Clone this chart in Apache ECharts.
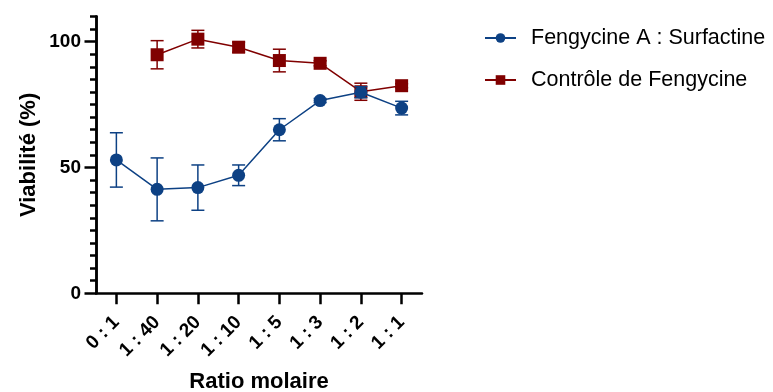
<!DOCTYPE html>
<html>
<head>
<meta charset="utf-8">
<script src="https://cdn.jsdelivr.net/npm/echarts@6/dist/echarts.min.js"></script>
<style>
  html, body { margin: 0; padding: 0; background: #fff; }
  #chart { width: 773px; height: 392px; }
</style>
</head>
<body>
<div id="chart"></div>
<script>
// Molar ratios tested
const categories = ['0 : 1', '1 : 40', '1 : 20', '1 : 10', '1 : 5', '1 : 3', '1 : 2', '1 : 1'];

// Fengycine A : Surfactine mixture (mean viability %, and error)
const mixMean = [53, 41.3, 42, 46.9, 65, 76.6, 79.9, 73.6];
const mixErr  = [10.8, 12.5, 9, 4.1, 4.4, 0.8, 2.2, 2.7];

// Fengycine alone (no value at 0 : 1)
const ctrlMean = [null, 94.8, 101, 97.8, 92.5, 91.4, 80.1, 82.5];
const ctrlErr  = [null, 5.6, 3.5, 2.0, 4.5, 1.0, 3.4, 0.8];

// Y axis ticks
const yMinorTicks = [0, 5, 10, 15, 20, 25, 30, 35, 40, 45, 50, 55, 60, 65, 70, 75, 80, 85, 90, 95, 100, 105, 110];
const yMajorTicks = [0, 50, 100];

const names = ['Fengycine A : Surfactine', 'Contrôle de Fengycine'];
const BLUE = '#0d4184';
const RED = '#800000';
const FONT = 'Liberation Sans, Arial, Helvetica, sans-serif';

function errorData(mean, err) {
  return mean.map((m, i) => m == null ? null : [i, m - err[i], m + err[i]]).filter(d => d);
}

function errorBars(color) {
  return function (params, api) {
    const x = api.value(0);
    const lo = api.coord([x, api.value(1)]);
    const hi = api.coord([x, api.value(2)]);
    const cap = 6.5;
    const style = { stroke: color, lineWidth: 1.5 };
    return {
      type: 'group',
      children: [
        { type: 'line', shape: { x1: hi[0], y1: hi[1], x2: lo[0], y2: lo[1] }, style },
        { type: 'line', shape: { x1: hi[0] - cap, y1: hi[1], x2: hi[0] + cap, y2: hi[1] }, style },
        { type: 'line', shape: { x1: lo[0] - cap, y1: lo[1], x2: lo[0] + cap, y2: lo[1] }, style }
      ]
    };
  };
}

const axisLine = { show: true, lineStyle: { color: '#000', width: 2.5 } };
const tickFont = { color: '#000', fontFamily: FONT, fontWeight: 'bold', fontSize: 19 };
const titleFont = { color: '#000', fontFamily: FONT, fontWeight: 'bold', fontSize: 22 };

const chart = echarts.init(document.getElementById('chart'), null, { renderer: 'canvas' });
chart.setOption({
  animation: false,
  backgroundColor: '#fff',
  grid: { left: 96, right: 351, top: 16.5, bottom: 98.7, containLabel: false, outerBoundsMode: 'none' },
  legend: {
    orient: 'vertical',
    left: 479,
    top: 22,
    itemWidth: 31,
    itemHeight: 12,
    itemGap: 20,
    data: names,
    textStyle: { color: '#000', fontFamily: FONT, fontSize: 21.5, padding: [0, 0, 0, 10] }
  },
  xAxis: {
    type: 'category',
    data: categories,
    boundaryGap: true,
    axisLine: axisLine,
    axisTick: { show: true, alignWithLabel: true, length: 11, lineStyle: { color: '#000', width: 2.5 } },
    axisLabel: Object.assign({ rotate: 45, margin: 26, interval: 0 }, tickFont),
    splitLine: { show: false },
    name: 'Ratio molaire',
    nameLocation: 'middle',
    nameGap: 78,
    nameTextStyle: titleFont
  },
  yAxis: [
    {
      type: 'value',
      position: 'left',
      min: 0,
      max: 110,
      interval: 5,
      axisLine: axisLine,
      axisTick: { show: true, length: 6, customValues: yMinorTicks, lineStyle: { color: '#000', width: 2.5 } },
      axisLabel: { show: false },
      splitLine: { show: false },
      name: 'Viabilité (%)',
      nameLocation: 'middle',
      nameGap: 56,
      nameTextStyle: titleFont
    },
    {
      type: 'value',
      position: 'left',
      offset: 0,
      min: 0,
      max: 110,
      interval: 5,
      axisLine: axisLine,
      axisTick: { show: true, length: 11.5, customValues: yMajorTicks, lineStyle: { color: '#000', width: 2.5 } },
      axisLabel: Object.assign({ customValues: yMajorTicks, margin: 15 }, tickFont),
      splitLine: { show: false }
    }
  ],
  series: [
    {
      name: names[1],
      type: 'line',
      data: ctrlMean,
      connectNulls: false,
      symbol: 'rect',
      symbolSize: 13,
      color: RED,
      itemStyle: { color: RED },
      lineStyle: { color: RED, width: 1.5 },
      z: 2
    },
    {
      type: 'custom',
      data: errorData(ctrlMean, ctrlErr),
      renderItem: errorBars(RED),
      encode: { x: 0, y: [1, 2] },
      z: 2,
      silent: true
    },
    {
      name: names[0],
      type: 'line',
      data: mixMean,
      symbol: 'circle',
      symbolSize: 13,
      color: BLUE,
      itemStyle: { color: BLUE },
      lineStyle: { color: BLUE, width: 1.5 },
      z: 3
    },
    {
      type: 'custom',
      data: errorData(mixMean, mixErr),
      renderItem: errorBars(BLUE),
      encode: { x: 0, y: [1, 2] },
      z: 3,
      silent: true
    }
  ]
});
</script>
</body>
</html>
